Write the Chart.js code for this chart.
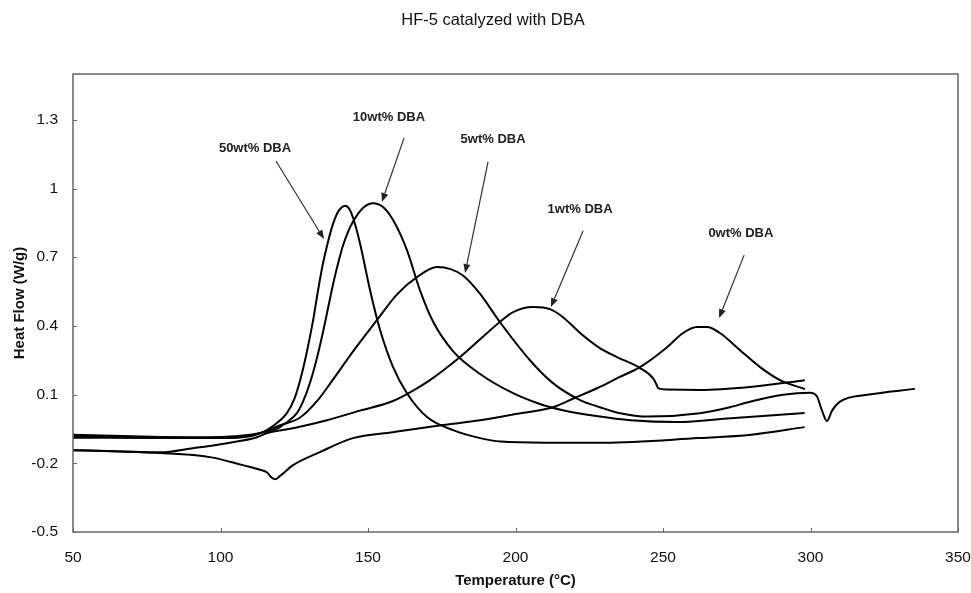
<!DOCTYPE html>
<html>
<head>
<meta charset="utf-8">
<title>HF-5 catalyzed with DBA</title>
<script src="https://cdn.jsdelivr.net/npm/chart.js@4.4.1/dist/chart.umd.min.js"></script>
<style>
  html, body { margin: 0; padding: 0; background: #fff; }
  #wrap { width: 971px; height: 593px; }
</style>
</head>
<body>
<div id="wrap"><canvas id="dsc" width="971" height="593"></canvas></div>
<script>
// axis ticks
const xTicks = [50, 100, 150, 200, 250, 300, 350];
const yTicks = [-0.5, -0.2, 0.1, 0.4, 0.7, 1, 1.3];

// 50wt% DBA
const t50 = [50, 80, 100, 110, 114.4, 118, 122.5, 125, 127, 129, 131.4, 133, 134.7, 136.5, 138, 139.5, 141, 142.3, 143.6, 145, 147.3, 150.7, 154.1, 158.5, 163.2, 170, 178.8, 188, 195, 210, 230, 262, 280, 298];
const hf50 = [-0.075, -0.085, -0.088, -0.08, -0.064, -0.035, 0.019, 0.08, 0.163, 0.27, 0.425, 0.55, 0.67, 0.77, 0.84, 0.89, 0.917, 0.925, 0.912, 0.87, 0.76, 0.556, 0.382, 0.22, 0.106, 0.002, -0.055, -0.09, -0.105, -0.11, -0.11, -0.09, -0.075, -0.042];

// 10wt% DBA
const t10 = [50, 80, 100, 110, 114.4, 119, 122, 125.9, 128, 130.3, 132.5, 134.7, 136.5, 138.3, 140, 141.5, 143.2, 144.9, 148.3, 151.7, 155.1, 158.5, 163.2, 167.6, 172, 178.8, 188, 199.2, 208, 216, 228, 239, 255, 273, 298];
const hf10 = [-0.088, -0.09, -0.09, -0.082, -0.064, -0.05, -0.025, 0.019, 0.07, 0.15, 0.25, 0.37, 0.48, 0.59, 0.68, 0.75, 0.81, 0.855, 0.915, 0.936, 0.919, 0.862, 0.731, 0.556, 0.42, 0.29, 0.19, 0.106, 0.06, 0.032, 0.005, -0.012, -0.02, -0.003, 0.02];

// 5wt% DBA
const t5 = [50, 80, 100, 110, 114.4, 120, 127, 133, 138, 145, 153, 160, 166.6, 173.4, 178, 182.2, 188, 194.7, 204.9, 212.7, 221.9, 228.6, 235, 245, 262.5, 272.7, 279.5, 290.7, 299.8, 302.2, 303.9, 305.6, 307.3, 310, 319.2, 335.4];
const hf5 = [-0.082, -0.087, -0.085, -0.075, -0.064, -0.035, 0.0, 0.076, 0.163, 0.29, 0.425, 0.54, 0.613, 0.657, 0.648, 0.62, 0.54, 0.417, 0.25, 0.15, 0.076, 0.045, 0.02, 0.004, 0.019, 0.045, 0.069, 0.099, 0.108, 0.092, 0.03, -0.015, 0.03, 0.069, 0.099, 0.125];

// 1wt% DBA
const t1 = [50, 65, 79.5, 90.7, 102.2, 112.4, 115.8, 124.6, 136.1, 147.3, 158.5, 165, 171, 181.2, 194.7, 199.2, 205.9, 211.7, 216.1, 221.9, 228.6, 234.4, 242.2, 246.6, 247.9, 248.3, 251.4, 262.5, 279.5, 298.1];
const hf1 = [-0.143, -0.147, -0.152, -0.134, -0.112, -0.086, -0.068, -0.047, -0.012, 0.03, 0.072, 0.115, 0.163, 0.264, 0.417, 0.46, 0.482, 0.473, 0.438, 0.369, 0.303, 0.264, 0.216, 0.172, 0.141, 0.128, 0.122, 0.12, 0.133, 0.163];

// 0wt% DBA
const t0 = [50, 65, 79.5, 96.4, 107.6, 113.4, 115.8, 117.3, 118.5, 120.2, 124.6, 133.7, 144.9, 158.5, 175.4, 188, 200, 212.7, 220, 228, 235, 242.2, 251.4, 256.8, 261.5, 264.9, 269.3, 276.1, 282.9, 289.7, 298.1];
const hf0 = [-0.143, -0.148, -0.155, -0.173, -0.208, -0.228, -0.24, -0.262, -0.27, -0.255, -0.208, -0.151, -0.09, -0.064, -0.033, -0.012, 0.015, 0.045, 0.085, 0.13, 0.175, 0.22, 0.307, 0.369, 0.395, 0.395, 0.369, 0.294, 0.22, 0.163, 0.124];

// labels with arrows (label centre, arrow start, arrow tip) in data units
const notes = [
    { text: '50wt% DBA', at: [111.7, 1.177], from: [118.8, 1.12], to: [135.1, 0.779] },
    { text: '10wt% DBA', at: [157.1, 1.312], from: [162.2, 1.22], to: [154.7, 0.941] },
    { text: '5wt% DBA', at: [192.4, 1.216], from: [190.7, 1.116], to: [182.9, 0.631] },
    { text: '1wt% DBA', at: [221.9, 0.91], from: [222.9, 0.814], to: [212, 0.482] },
    { text: '0wt% DBA', at: [276.4, 0.805], from: [277.5, 0.709], to: [269, 0.434] }
];

const FONT = "'Liberation Sans', Arial, sans-serif";
Chart.defaults.font.family = FONT;

function toPoints(ts, vs) {
    return ts.map((t, i) => ({ x: t, y: vs[i] }));
}

function curve(label, ts, vs) {
    return {
        label: label,
        data: toPoints(ts, vs),
        borderColor: '#000',
        borderWidth: 2,
        pointRadius: 0,
        fill: false,
        cubicInterpolationMode: 'monotone'
    };
}

function arrow(ctx, x1, y1, x2, y2) {
    const ang = Math.atan2(y2 - y1, x2 - x1);
    const len = 9, half = 3.5;
    const bx = x2 - len * Math.cos(ang), by = y2 - len * Math.sin(ang);
    ctx.beginPath();
    ctx.moveTo(x1, y1);
    ctx.lineTo(bx, by);
    ctx.stroke();
    ctx.beginPath();
    ctx.moveTo(x2, y2);
    ctx.lineTo(bx + half * Math.sin(ang), by - half * Math.cos(ang));
    ctx.lineTo(bx - half * Math.sin(ang), by + half * Math.cos(ang));
    ctx.closePath();
    ctx.fill();
}

// keep the plot box fixed, labels may hang over the edges
function noPad(s) {
    s.paddingLeft = 0;
    s.paddingRight = 0;
    s.paddingTop = 0;
    s.paddingBottom = 0;
}

const decor = {
    id: 'decor',
    afterDraw(chart) {
        const { ctx, chartArea: a, scales: { x, y } } = chart;
        ctx.save();

        // frame
        ctx.strokeStyle = '#666';
        ctx.lineWidth = 1.5;
        ctx.strokeRect(a.left, a.top, a.right - a.left, a.bottom - a.top);

        // inward tick marks
        ctx.beginPath();
        yTicks.forEach(v => {
            const py = Math.round(y.getPixelForValue(v)) + 0.5;
            ctx.moveTo(a.left, py);
            ctx.lineTo(a.left + 4, py);
        });
        xTicks.forEach(v => {
            const px = Math.round(x.getPixelForValue(v)) + 0.5;
            ctx.moveTo(px, a.bottom);
            ctx.lineTo(px, a.bottom - 4);
        });
        ctx.lineWidth = 1;
        ctx.stroke();

        // chart title
        ctx.fillStyle = '#111';
        ctx.textAlign = 'center';
        ctx.textBaseline = 'middle';
        ctx.font = '16.5px ' + FONT;
        ctx.fillText('HF-5 catalyzed with DBA', 493, 20);

        // axis titles
        ctx.font = 'bold 15px ' + FONT;
        ctx.fillText('Temperature (°C)', (a.left + a.right) / 2, 581);
        ctx.save();
        ctx.translate(20, (a.top + a.bottom) / 2);
        ctx.rotate(-Math.PI / 2);
        ctx.fillText('Heat Flow (W/g)', 0, 0);
        ctx.restore();

        // annotations
        ctx.font = 'bold 13px ' + FONT;
        ctx.strokeStyle = '#333';
        ctx.fillStyle = '#222';
        ctx.lineWidth = 1.2;
        notes.forEach(n => {
            ctx.fillText(n.text, x.getPixelForValue(n.at[0]), y.getPixelForValue(n.at[1]));
            arrow(ctx,
                x.getPixelForValue(n.from[0]), y.getPixelForValue(n.from[1]),
                x.getPixelForValue(n.to[0]), y.getPixelForValue(n.to[1]));
        });

        ctx.restore();
    }
};

document.addEventListener('DOMContentLoaded', function() {
    const ctx = document.getElementById('dsc').getContext('2d');
    new Chart(ctx, {
        type: 'line',
        data: {
            datasets: [
                curve('50wt% DBA', t50, hf50),
                curve('10wt% DBA', t10, hf10),
                curve('5wt% DBA', t5, hf5),
                curve('1wt% DBA', t1, hf1),
                curve('0wt% DBA', t0, hf0)
            ]
        },
        options: {
            responsive: false,
            animation: false,
            devicePixelRatio: 1,
            layout: { padding: { left: 0, right: 13, top: 74, bottom: 0 } },
            plugins: {
                legend: { display: false },
                title: { display: false },
                tooltip: { enabled: false }
            },
            scales: {
                x: {
                    type: 'linear',
                    min: 50,
                    max: 350,
                    afterBuildTicks: s => { s.ticks = xTicks.map(v => ({ value: v })); },
                    afterFit: s => { s.height = 61; noPad(s); },
                    grid: { display: false, drawTicks: false },
                    border: { display: false },
                    ticks: {
                        padding: 16,
                        color: '#111',
                        font: { size: 15.5 },
                        maxRotation: 0,
                        autoSkip: false,
                        callback: v => String(v)
                    }
                },
                y: {
                    type: 'linear',
                    min: -0.5,
                    max: 1.5,
                    afterBuildTicks: s => { s.ticks = yTicks.map(v => ({ value: v })); },
                    afterFit: s => { s.width = 73; noPad(s); },
                    grid: { display: false, drawTicks: false },
                    border: { display: false },
                    ticks: {
                        padding: 15,
                        color: '#111',
                        font: { size: 15.5 },
                        autoSkip: false,
                        callback: v => String(v)
                    }
                }
            }
        },
        plugins: [decor]
    });
});
</script>
</body>
</html>
